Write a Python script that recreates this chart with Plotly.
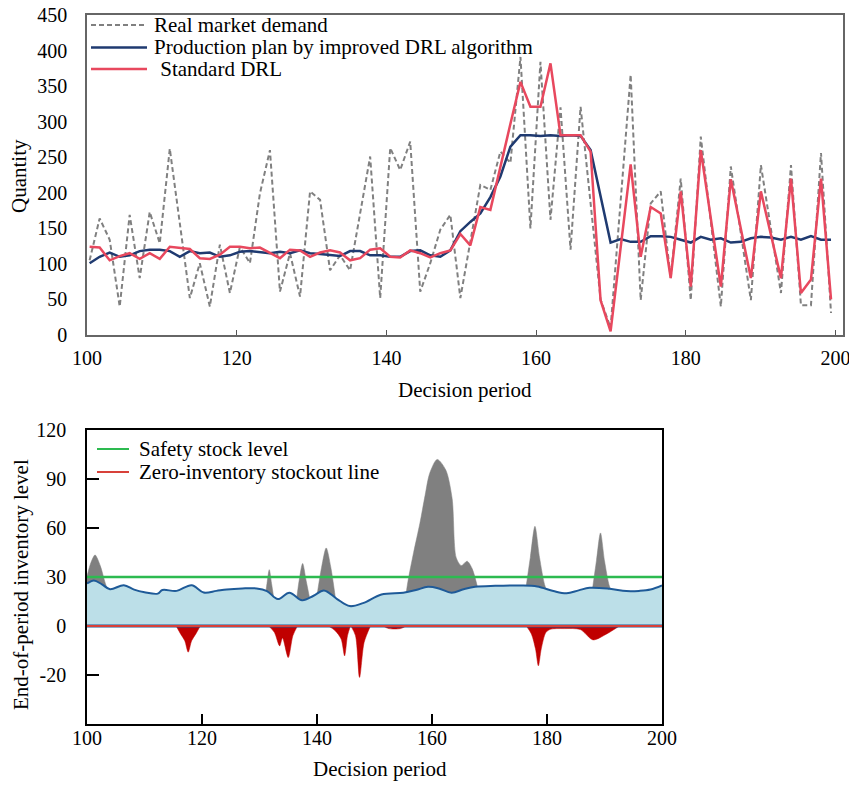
import numpy as np
import plotly.graph_objects as go

# The page places the figure 8 px from the window's top-left corner.
OFF = 8
W, H = 857 - OFF, 785 - OFF

# ---------------- top chart data ----------------
periods = np.round(np.linspace(100.35, 199.4, 75), 2).tolist()
demand = [105, 164, 134, 40, 169, 80, 173, 129, 262, 160, 52, 101, 40, 127, 59, 124, 101, 199, 260,
          61, 115, 54, 202, 190, 91, 112, 91, 171, 251, 52, 263, 232, 272, 61, 101, 148, 169, 52,
          133, 211, 204, 258, 242, 391, 150, 384, 162, 320, 120, 321, 185,
          50, 10, 190, 366, 49, 185, 202, 80, 220, 49, 279, 159, 40, 237, 143, 49, 239, 149, 59,
          239, 42, 42, 256, 31]
improved = [101, 110, 116, 110, 112, 118, 120, 120, 118, 110, 118, 115, 116, 110, 112, 117, 118, 117, 115,
            117, 115, 119, 115, 114, 112, 111, 118, 118, 112, 112, 110, 110, 118, 119, 112, 110, 119, 146,
            159, 171, 194, 223, 265, 281, 281, 280, 281, 280, 281, 280, 260, 195, 130, 135, 131, 131, 139,
            139, 138, 134, 130, 138, 134, 136, 130, 131, 136, 138, 137, 134, 138, 134, 139, 134, 134]
standard = [124, 123, 105, 111, 115, 107, 115, 107, 124, 122, 121, 108, 107, 113, 124, 124, 122, 123, 115,
            108, 120, 119, 110, 116, 119, 116, 105, 108, 120, 122, 110, 109, 119, 115, 109, 115, 119, 142,
            126, 180, 176, 238, 297, 356, 321, 321, 382, 281, 281, 281, 258, 49, 5, 123, 240, 110, 180,
            171, 80, 202, 68, 260, 164, 68, 219, 149, 80, 202, 141, 80, 220, 59, 78, 220, 50]

top_x_ticks = [100, 120, 140, 160, 180, 200]
top_y_ticks = [0, 50, 100, 150, 200, 250, 300, 350, 400, 450]

# ---------------- bottom chart data ----------------
inv_periods = [100, 101.2, 102.6, 104, 106.4, 108.2, 110, 112.3, 113.1, 115.6, 118.2, 120.3, 122.5,
               124.3, 127, 129.5, 131.3, 133.2, 135.2, 137.4, 139.4, 141.2, 143.5, 145.7, 148, 151.2,
               155, 157.2, 159.3, 161.2, 163.4, 165.5, 167.5, 171, 175.3, 178.3, 181.1, 183.4, 185.5,
               187.4, 190.9, 193.8, 196, 198, 200]
inv_level = [26, 27.9, 25.5, 22.5, 25, 22.3, 20.7, 19.8, 22, 21.5, 25, 20.5, 21.5,
             22.4, 23, 23, 21.4, 16.5, 20.4, 15.7, 18.5, 21.8, 16.5, 12.2, 14, 19.3,
             20.4, 22, 24, 23, 20.4, 22.5, 24, 24.6, 24.8, 24.2, 21.4, 20, 21.8,
             23.4, 22.8, 21.4, 21.5, 22.3, 24.8]

excess_periods = [100, 100.7, 101.4, 102.3, 103.2, 104.4, None,
                  130.9, 131.3, 131.7, 132.1, 132.7, None,
                  136.3, 136.9, 137.5, 138.1, 139.0, None,
                  139.8, 140.8, 141.6, 142.4, 143.4, None,
                  155.3, 155.8, 156.8, 157.9, 158.8, 159.6, 160.9, 162.4, 163.5, 164.2, 165.1,
                  166.1, 167.0, 168.3, None,
                  176.2, 177.1, 177.9, 178.7, 179.7, 180.6, None,
                  187.8, 188.6, 189.3, 190.0, 190.9, 191.8]
excess_level = [30.5, 39, 43.5, 37, 26, 15, None,
                15, 26, 34.5, 26, 12, None,
                12, 28, 38.3, 28, 12, None,
                14, 36, 47.8, 36, 12, None,
                15, 27, 45, 63, 80, 93.5, 102, 95.5, 78, 42, 37,
                39.7, 35, 18, None,
                20, 42, 61, 42, 24, 18, None,
                20, 40, 57, 40, 24, 18]

stockout_periods = [115.5, 116.3, 117.0, 117.6, 118.2, 118.9, 119.7, None,
                    131.6, 132.6, 133.5, 134.0, 135.0, 135.8, 136.6, None,
                    142.0, 143.2, 144.2, 144.8, 145.3, 145.8, None,
                    145.9, 146.7, 147.4, 148.2, 149.3, None,
                    151.5, 152.5, 154.5, 155.5, None,
                    176.4, 177.3, 178.0, 178.5, 179.0, 179.8, 180.6, 183.0, 185.8, 188.0, 190.3, 192.6]
stockout_level = [0, -5, -9, -16, -9, -5, 0, None,
                  0, -4, -12.2, -7.3, -19.3, -6, 0, None,
                  0, -3, -8, -18.3, -6, 0, None,
                  0, -6, -31.5, -10, 0, None,
                  0, -1.6, -1.6, 0, None,
                  0, -5, -14, -24.4, -14, -4, -2, -1.6, -2.2, -8.5, -5, 0]

period_span = [100, 200]
safety_stock = [30, 30]
zero_line = [0, 0]

bottom_x_ticks = [100, 120, 140, 160, 180, 200]
bottom_y_tickvals = [-30, 0, 30, 60, 90, 120]
bottom_y_ticktext = ["-20", "0", "30", "60", "90", "120"]

# ---------------- styles ----------------
FONT = "Liberation Serif"
C_DEMAND = "#808080"
C_IMPROVED = "#1F3A70"
C_STANDARD = "#E8485E"
C_GREEN = "#2DBA50"
C_ZERO = "#D8413A"
C_INV_LINE = "#1E5A98"
C_INV_FILL = "#BCDFE8"
C_EXCESS = "#808080"
C_STOCKOUT = "#C00000"
DEMAND_DASH = "5px,3px"


def px(x):
    return (x - OFF) / W


def py(y):
    return 1 - (y - OFF) / H


fig = go.Figure()

fig.add_trace(go.Scatter(x=periods, y=demand, mode="lines", name="Real market demand",
                         line=dict(color=C_DEMAND, width=2, dash=DEMAND_DASH),
                         xaxis="x", yaxis="y", showlegend=False))
fig.add_trace(go.Scatter(x=periods, y=improved, mode="lines",
                         name="Production plan by improved DRL algorithm",
                         line=dict(color=C_IMPROVED, width=2.5),
                         xaxis="x", yaxis="y", showlegend=False))
fig.add_trace(go.Scatter(x=periods, y=standard, mode="lines", name="Standard DRL",
                         line=dict(color=C_STANDARD, width=2.5),
                         xaxis="x", yaxis="y", showlegend=False))

fig.add_trace(go.Scatter(x=excess_periods, y=excess_level, mode="lines", fill="tozeroy",
                         fillcolor=C_EXCESS, connectgaps=False,
                         line=dict(color=C_EXCESS, width=0.5, shape="spline", smoothing=0.8),
                         xaxis="x2", yaxis="y2", showlegend=False))
fig.add_trace(go.Scatter(x=stockout_periods, y=stockout_level, mode="lines", fill="tozeroy",
                         fillcolor=C_STOCKOUT, connectgaps=False,
                         line=dict(color=C_STOCKOUT, width=0.5, shape="spline", smoothing=0.8),
                         xaxis="x2", yaxis="y2", showlegend=False))
fig.add_trace(go.Scatter(x=inv_periods, y=inv_level, mode="lines", fill="tozeroy",
                         fillcolor=C_INV_FILL,
                         line=dict(color=C_INV_LINE, width=2, shape="spline", smoothing=1),
                         xaxis="x2", yaxis="y2", showlegend=False))
fig.add_trace(go.Scatter(x=period_span, y=zero_line, mode="lines",
                         line=dict(color=C_INV_LINE, width=3),
                         xaxis="x2", yaxis="y2", showlegend=False))
fig.add_trace(go.Scatter(x=period_span, y=safety_stock, mode="lines", name="Safety stock level",
                         line=dict(color=C_GREEN, width=2.5),
                         xaxis="x2", yaxis="y2", showlegend=False))
fig.add_trace(go.Scatter(x=period_span, y=zero_line, mode="lines", name="Zero-inventory stockout line",
                         line=dict(color=C_ZERO, width=1.8),
                         xaxis="x2", yaxis="y2", showlegend=False))

# ---------------- manual legends ----------------
shapes = []
annotations = []
top_legend = [(25, C_DEMAND, DEMAND_DASH, "Real market demand", 152),
              (47.5, C_IMPROVED, "solid", "Production plan by improved DRL algorithm", 152),
              (69, C_STANDARD, "solid", "\u00a0Standard DRL", 153)]
for yy, col, dash, txt, tx in top_legend:
    shapes.append(dict(type="line", xref="paper", yref="paper", x0=px(91), x1=px(147),
                       y0=py(yy), y1=py(yy),
                       line=dict(color=col, width=2.5 if dash == "solid" else 2, dash=dash)))
    annotations.append(dict(text=txt, xref="paper", yref="paper", x=px(tx), y=py(yy), xanchor="left",
                            yanchor="middle", showarrow=False,
                            font=dict(family=FONT, size=21, color="black")))

bottom_legend = [(449, C_GREEN, "Safety stock level"),
                 (472, C_ZERO, "Zero-inventory stockout line")]
for yy, col, txt in bottom_legend:
    shapes.append(dict(type="line", xref="paper", yref="paper", x0=px(97), x1=px(129),
                       y0=py(yy), y1=py(yy), line=dict(color=col, width=2)))
    annotations.append(dict(text=txt, xref="paper", yref="paper", x=px(137), y=py(yy), xanchor="left",
                            yanchor="middle", showarrow=False,
                            font=dict(family=FONT, size=21, color="black")))

# axis titles
title_font = dict(family=FONT, size=21, color="black")
annotations += [
    dict(text="Quantity", xref="paper", yref="paper", x=px(19), y=py(176), textangle=-90,
         xanchor="center", yanchor="middle", showarrow=False, font=title_font),
    dict(text="Decision period", xref="paper", yref="paper", x=px(465), y=py(390),
         xanchor="center", yanchor="middle", showarrow=False, font=title_font),
    dict(text="End-of-period inventory level", xref="paper", yref="paper", x=px(21), y=py(585),
         textangle=-90, xanchor="center", yanchor="middle", showarrow=False, font=title_font),
    dict(text="Decision period", xref="paper", yref="paper", x=px(380), y=py(769),
         xanchor="center", yanchor="middle", showarrow=False, font=title_font),
]

tickfont = dict(family=FONT, size=20, color="black")

fig.update_layout(
    template="none",
    font=dict(family=FONT, size=20, color="black"),
    width=W, height=H,
    margin=dict(l=0, r=0, t=0, b=0, pad=0, autoexpand=False),
    paper_bgcolor="white", plot_bgcolor="white",
    shapes=shapes, annotations=annotations,
    xaxis=dict(domain=[px(87), px(843)], anchor="y", range=[100, 201], tickvals=top_x_ticks,
               ticks="inside", ticklen=5, tickcolor="#555555", showline=True, linecolor="#666666",
               linewidth=1.5, mirror=True, showgrid=False, zeroline=False, tickfont=tickfont,
               automargin=False, ticklabelstandoff=4, ticklabeloverflow="allow"),
    yaxis=dict(domain=[py(335), py(15)], anchor="x", range=[0, 450], tickvals=top_y_ticks,
               ticks="", showline=True, linecolor="#666666", linewidth=1.5, mirror=True,
               showgrid=False, zeroline=False, tickfont=tickfont, ticklabelstandoff=14,
               automargin=False, ticklabeloverflow="allow"),
    xaxis2=dict(domain=[px(87), px(662)], anchor="y2", range=[100, 200], tickvals=bottom_x_ticks,
                ticks="inside", ticklen=10, tickcolor="black", tickwidth=1.5, showline=True,
                linecolor="black", linewidth=1.5, mirror=True, showgrid=False, zeroline=False,
                tickfont=tickfont, automargin=False, ticklabelstandoff=-5, ticklabeloverflow="allow"),
    yaxis2=dict(domain=[py(724), py(430)], anchor="x2", range=[-60, 120], tickvals=bottom_y_tickvals,
                ticktext=bottom_y_ticktext, ticks="inside", ticklen=12, tickcolor="black", tickwidth=1.5,
                showline=True, linecolor="black", linewidth=1.5, mirror=True, showgrid=False,
                zeroline=False, tickfont=tickfont, ticklabelstandoff=15, automargin=False,
                ticklabeloverflow="allow", layer="below traces"),
)

fig.write_html("out.html")
